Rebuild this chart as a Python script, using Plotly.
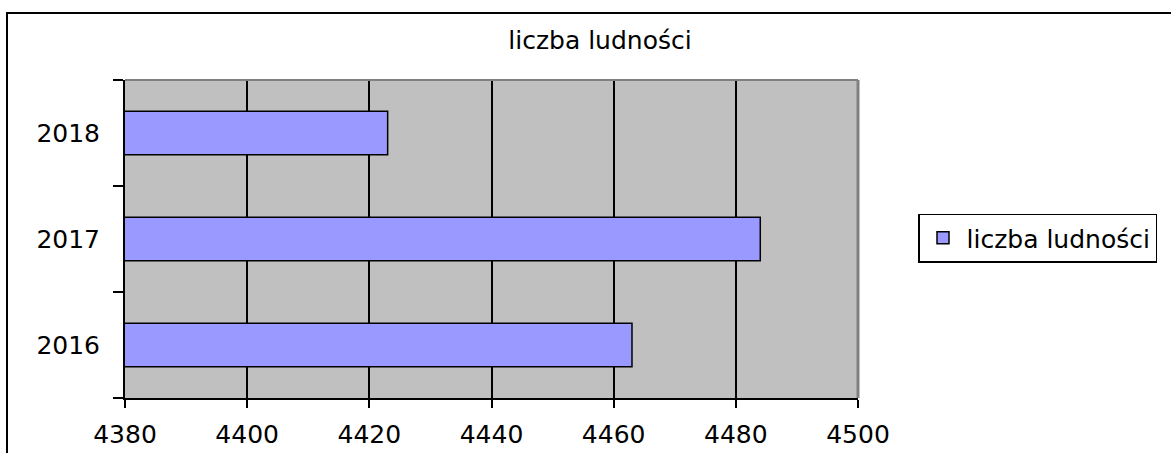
import plotly.graph_objects as go

years = ["2016", "2017", "2018"]
population = [4463, 4484, 4423]
series_name = "liczba ludności"
chart_title = "liczba ludności"
x_ticks = [4380, 4400, 4420, 4440, 4460, 4480, 4500]

FONT = "DejaVu Sans"
FS = 25
W, H = 1171, 453
L, R, T, B = 125, 858, 80, 398

fig = go.Figure()
fig.add_trace(go.Bar(
    y=years, x=population, orientation="h", name=series_name,
    marker=dict(color="#9999ff", line=dict(color="black", width=1.5)),
    width=0.41, showlegend=True,
))

def px_x(p):
    return (p - L) / (R - L)

def px_y(p):
    return (B - p) / (B - T)

fig.update_layout(
    width=W, height=H,
    margin=dict(l=L, r=W - R, t=T, b=H - B, pad=0, autoexpand=False),
    paper_bgcolor="white", plot_bgcolor="#c0c0c0",
    font=dict(family=FONT, size=FS, color="black"),
    title=dict(text=chart_title, x=600 / W, xref="container", xanchor="center",
               y=1 - 40 / H, yref="container", yanchor="middle",
               font=dict(family=FONT, size=FS, color="black")),
    showlegend=True,
    legend=dict(x=px_x(918), xanchor="left", y=px_y(238), yanchor="middle",
                bordercolor="black", borderwidth=1.5, bgcolor="white",
                font=dict(family=FONT, size=FS, color="black"),
                itemwidth=37, tracegroupgap=0),
    bargap=0.59,
)
fig.update_xaxes(
    range=[4380, 4500], tickvals=x_ticks, ticktext=[str(v) for v in x_ticks],
    showgrid=True, gridcolor="black", gridwidth=2,
    showline=True, linecolor="black", linewidth=2,
    ticks="outside", ticklen=8, tickwidth=2, tickcolor="black",
    ticklabelstandoff=5, zeroline=False, automargin=False,
    tickfont=dict(family=FONT, size=FS, color="black"),
)
fig.update_yaxes(
    type="category", categoryorder="array", categoryarray=years,
    range=[-0.5, 2.5], tickson="boundaries",
    showgrid=False, showline=True, linecolor="black", linewidth=2,
    ticks="outside", ticklen=10, tickwidth=2, tickcolor="black",
    ticklabelstandoff=18, zeroline=False, automargin=False,
    tickfont=dict(family=FONT, size=FS, color="black"),
)

# gray top and right border of plot area
fig.add_shape(type="line", xref="paper", yref="paper", x0=0, x1=1, y0=1, y1=1,
              line=dict(color="#808080", width=2), layer="above")
fig.add_shape(type="line", xref="paper", yref="paper", x0=1, x1=1, y0=0, y1=1,
              line=dict(color="#808080", width=3), layer="above")
# outer chart frame (extends past the right/bottom of the view)
fig.add_shape(type="rect", xref="paper", yref="paper",
              x0=px_x(7), x1=px_x(1190), y0=px_y(470), y1=px_y(13),
              line=dict(color="black", width=2), layer="below")

fig.write_html("out.html",
               config={"displayModeBar": False},
               post_script="document.body.style.margin='0';document.body.style.overflow='hidden';")
